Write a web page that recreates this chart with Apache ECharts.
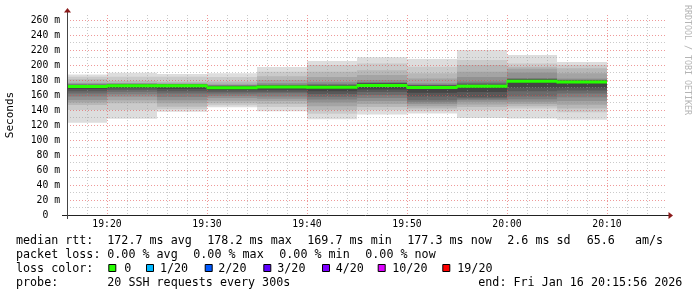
<!DOCTYPE html>
<html><head><meta charset="utf-8">
<script src="https://cdn.jsdelivr.net/npm/echarts@6/dist/echarts.min.js"></script>
<style>html,body{margin:0;padding:0;background:#fff}#c{width:697px;height:297px}</style>
</head><body><div id="c"></div>
<script>
// ---- data ----
const axisStart = '19:16';
const axisEnd = '20:16';
const stepMinutes = 5;
// end time of each 5-minute smokeping step
const endTimes = ['19:20','19:25','19:30','19:35','19:40','19:45','19:50','19:55','20:00','20:05','20:10'];
// median rtt (ms) per step
const medians = [171.5, 172.4, 172.4, 169.7, 170.7, 170.3, 172.8, 170.1, 171.6, 178.2, 177.3];
// 20 sorted ping rtts (ms) per step (smoke)
const pings = [
  [123,140,146.7,150,153.3,158,162,165,168,170.7,172.3,172.7,173.2,173.8,174.5,175.5,176.4,181,184.4,187.5],
  [128.5,140,148.9,153,157.8,161,164.4,167,169.5,171.8,173,173.5,174,174.5,175,175.3,175.6,179.1,184.4,189.8],
  [137.8,141,144.4,149,153,157.5,162,165,168,171.8,173,173.4,173.8,174.2,174.6,175,175.5,177.8,184.4,188],
  [143.6,146.5,149,152.5,156,159,162,164.5,166.7,168.7,170.7,171.3,172,172.5,173,173.5,175,178,184,189],
  [138.5,144,148,152,155,158,162.2,164.5,167,169.7,171.7,172.2,172.8,173.4,174,176,180,185,191,197.5],
  [127.6,135,140,145,150,154,157.8,161.5,165,168.8,171.8,172.4,173,174,175,177.8,184,191,200,205.5],
  [134,140,144,148,152,156,160,164,167.5,171,174.6,175.2,175.8,176.4,177,180,186.7,193,202,210.5],
  [135.5,139,142,145,148,150.5,153,158,163,168.4,171.8,172.3,172.8,173.4,174,175.6,182,189,197.8,208],
  [129.5,140,144,147.5,151,153.5,155.5,157,164,170.5,172.7,173.5,174.5,176,178,184,191,200,206.7,220],
  [128.6,142,145,148,151,154.5,158,165,170,177,179.4,180.2,181,181.8,182.6,190,195,197.8,202,213.3],
  [127,137,142,147,152,157,162,166,170,176.1,178.5,179,179.5,180,180.5,182,189,195.6,200,204]
];
const xTickLabels = ['19:20','19:30','19:40','19:50','20:00','20:10'];
const yMax = 266.667;
const lossLabels = ['0','1/20','2/20','3/20','4/20','10/20','19/20'];
const lossColors = ['#26ff00','#00b8ff','#0059ff','#5e00ff','#7e00ff','#dd00ff','#ff0000'];
const statsLine1 = ['median rtt:','172.7 ms avg','178.2 ms max','169.7 ms min','177.3 ms now','2.6 ms sd','65.6','am/s'];
const statsLine2 = ['packet loss:','0.00 % avg','0.00 % max','0.00 % min','0.00 % now'];
const probeLine = ['probe:','20 SSH requests every 300s','end: Fri Jan 16 20:15:56 2026'];

// ---- helpers ----
const toMin = s => { const [h,m] = s.split(':'); return (+h)*60 + (+m); };
const pad = n => (n < 10 ? '0' : '') + n;
const toHHMM = v => pad(Math.floor(v/60)) + ':' + pad(Math.round(v % 60));
const xMin = toMin(axisStart), xMax = toMin(axisEnd);

const smokeData = endTimes.map((t, i) => [toMin(t) - stepMinutes, toMin(t)].concat(pings[i]));
const medianData = endTimes.map((t, i) => [toMin(t) - stepMinutes, toMin(t), medians[i]]);

const MONO = '"DejaVu Sans Mono", monospace';
const RED = 'rgba(225,70,70,0.55)';
const GREY = 'rgba(150,150,150,0.5)';
const xColors = [0,1,2,3,4].map(k => ((xMin + 2*k) % 10 === 0) ? RED : GREY);

const chart = echarts.init(document.getElementById('c'), null, {renderer: 'canvas'});

const graphics = [];
function txt(x, y, s, size, extra) {
  graphics.push({type:'text', x: x, y: y, silent: true,
    style: Object.assign({text: s, fontFamily: MONO, fontSize: size || 11.7, fill: '#000',
      align: 'left', verticalAlign: 'middle'}, extra || {})});
}
const L1x = [16,107.3,207.3,307.3,407.3,507.3,586.7,635];
statsLine1.forEach((s,i) => txt(L1x[i], 240.5, s));
const L2x = [16,107.3,193.3,279.3,365.3];
statsLine2.forEach((s,i) => txt(L2x[i], 255, s));
txt(16, 269, 'loss color:');
const sqx = [108.3,146,204.7,263.3,322,377.7,442.3];
const lbx = [124.3,160,218.3,277.3,335.7,392.3,457.3];
lossLabels.forEach((s,i) => {
  graphics.push({type:'rect', silent:true, shape:{x: sqx[i]+0.5, y: 264.5, width: 7, height: 7},
    style:{fill: lossColors[i], stroke:'#000', lineWidth:1}});
  txt(lbx[i], 269, s);
});
const L4x = [16,107.3,478.3];
probeLine.forEach((s,i) => txt(L4x[i], 283.3, s));
// RRDTOOL watermark
graphics.push({type:'text', x: 687.5, y: 60, rotation: -Math.PI/2, silent:true,
  style:{text:'RRDTOOL / TOBI OETIKER', fontFamily: MONO, fontSize: 8.3, fill:'#b4b4b4', align:'center', verticalAlign:'middle'}});
// axis lines and arrows
graphics.push({type:'line', silent:true, z: 20, shape:{x1:62, y1:215.5, x2:669, y2:215.5}, style:{stroke:'#222', lineWidth:1}});
graphics.push({type:'line', silent:true, z: 20, shape:{x1:67.5, y1:219, x2:67.5, y2:12}, style:{stroke:'#444', lineWidth:1}});
graphics.push({type:'polygon', silent:true, z: 21, shape:{points:[[64,12.5],[71,12.5],[67.5,8]]}, style:{fill:'#8b1a1a'}});
graphics.push({type:'polygon', silent:true, z: 21, shape:{points:[[668.5,212],[668.5,219],[673,215.5]]}, style:{fill:'#8b1a1a'}});

function clipRect(r, cs) {
  return echarts.graphic.clipRectByRect(r, {x: cs.x, y: cs.y, width: cs.width, height: cs.height});
}

chart.setOption({
  animation: false,
  backgroundColor: '#fff',
  grid: {left: 67, right: 30, top: 15, bottom: 82, containLabel: false, outerBoundsMode: 'none'},
  xAxis: {
    type: 'value', min: xMin, max: xMax, interval: 2, z: 3,
    axisLine: {show: false},
    axisTick: {show: false},
    axisLabel: {margin: 4, fontFamily: MONO, fontSize: 9.75, color: '#000',
      formatter: v => { const s = toHHMM(v); return xTickLabels.indexOf(s) >= 0 ? s : ''; },
      showMinLabel: true, showMaxLabel: true, hideOverlap: false},
    splitLine: {show: true, showMaxLine: false, showMinLine: true,
      lineStyle: {color: xColors, type: [1,2], width: 1}}
  },
  yAxis: {
    type: 'value', min: 0, max: yMax, interval: 10, z: 3,
    name: 'Seconds', nameLocation: 'middle', nameRotate: 90, nameGap: 51,
    nameTextStyle: {fontFamily: MONO, fontSize: 11, color: '#000'},
    axisLine: {show: false},
    axisTick: {show: false},
    axisLabel: {margin: 7, fontFamily: MONO, fontSize: 9.75, color: '#000',
      formatter: v => v === 0 ? '0  ' : (Math.abs(v % 20) < 1e-6 ? v + ' m' : '')},
    splitLine: {show: true, showMaxLine: false,
      lineStyle: {color: [RED, GREY], type: [1,2], width: 1}}
  },
  graphic: graphics,
  series: [
    {
      type: 'custom', z: 2, clip: true,
      encode: {x: [0,1], y: Array.from({length:20}, (_, k) => k + 2)},
      data: smokeData,
      renderItem: function (params, api) {
        const x0 = api.value(0), x1 = api.value(1);
        const cs = params.coordSys;
        const children = [];
        for (let k = 1; k <= 10; k++) {
          const lo = api.value(1 + k), hi = api.value(22 - k);
          const p0 = api.coord([x0, hi]), p1 = api.coord([x1, lo]);
          const g = Math.floor(190 / 10 * (10 - k)) + 50;
          const r = clipRect({x: p0[0], y: p0[1], width: p1[0] - p0[0], height: p1[1] - p0[1]}, cs);
          if (r) children.push({type: 'rect', shape: r, style: {fill: 'rgb(' + g + ',' + g + ',' + g + ')'}});
        }
        return {type: 'group', children: children};
      }
    },
    {
      type: 'custom', z: 5, clip: true,
      encode: {x: [0,1], y: 2},
      data: medianData,
      renderItem: function (params, api) {
        const cs = params.coordSys;
        const a = api.coord([api.value(0), api.value(2)]);
        const b = api.coord([api.value(1), api.value(2)]);
        const children = [];
        const r = clipRect({x: a[0], y: a[1] - 1.5, width: b[0] - a[0], height: 3}, cs);
        if (r) children.push({type: 'rect', shape: r, style: {fill: '#26ff00'}});
        const i = params.dataIndex;
        if (i > 0) {
          const prev = api.coord([api.value(0), medians[i - 1]]);
          const top = Math.min(prev[1], a[1]) - 1.5, bot = Math.max(prev[1], a[1]) + 1.5;
          const rv = clipRect({x: a[0] - 0.5, y: top, width: 1, height: bot - top}, cs);
          if (rv) children.push({type: 'rect', shape: rv, style: {fill: '#26ff00'}});
        }
        return {type: 'group', children: children};
      }
    }
  ]
});
</script>
</body></html>
